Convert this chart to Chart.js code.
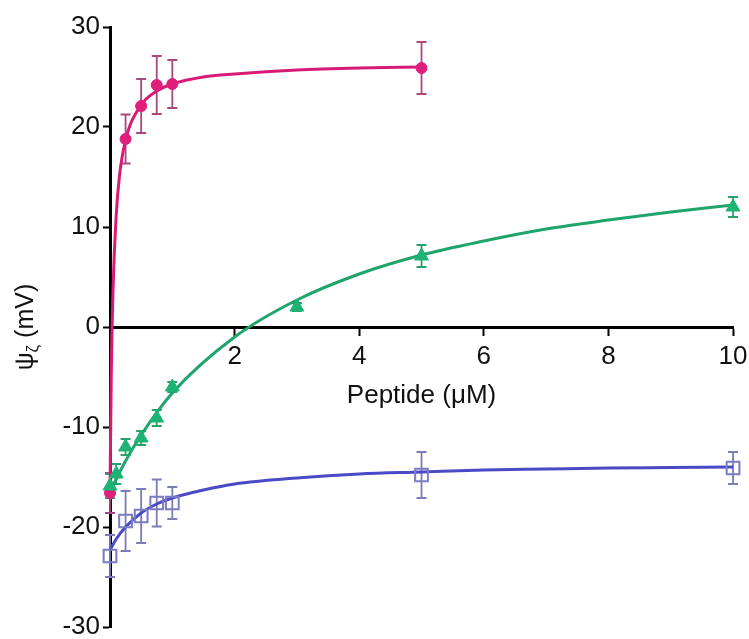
<!DOCTYPE html>
<html>
<head>
<meta charset="utf-8">
<title>Zeta potential vs peptide</title>
<script src="https://cdn.jsdelivr.net/npm/chart.js@4.4.1/dist/chart.umd.min.js"></script>
<style>
    html, body { margin: 0; padding: 0; background: #fff; }
    #wrap { width: 749px; height: 639px; }
</style>
</head>
<body>
<div id="wrap"><canvas id="zetaChart" width="749" height="639"></canvas></div>
<script>
const concPink = [0, 0.25, 0.5, 0.75, 1, 5];
const zetaPink = [-16.6, 18.8, 22.1, 24.2, 24.3, 25.9];
const errPink = [2.0, 2.45, 2.7, 2.9, 2.4, 2.6];

const concGreen = [0, 0.1, 0.25, 0.5, 0.75, 1, 3, 5, 10];
const zetaGreen = [-15.9, -14.7, -12.0, -11.1, -9.1, -6.0, 2.0, 7.1, 12.0];
const errGreen = [1.2, 1.0, 0.8, 0.7, 0.8, 0.5, 0.4, 1.1, 1.0];

const concBlue = [0, 0.25, 0.5, 0.75, 1, 5, 10];
const zetaBlue = [-22.9, -19.4, -18.9, -17.6, -17.6, -14.8, -14.1];
const errBlue = [2.1, 3.0, 2.7, 2.35, 1.6, 2.3, 1.6];

// fitted curves
const fitPinkX = [0, 0.02, 0.05, 0.1, 0.15, 0.25, 0.5, 0.75, 1, 1.5, 2, 3, 4, 5];
const fitPinkY = [-16.5, -5, 4, 11.2, 15, 18.7, 22.2, 23.6, 24.3, 25, 25.3, 25.7, 25.9, 26.0];

const fitGreenX = [0, 0.1, 0.25, 0.5, 1, 2, 3, 4, 5, 6, 7, 8, 9, 10];
const fitGreenY = [-16.5, -15.2, -13.4, -10.8, -6.6, -1.0, 2.7, 5.3, 7.2, 8.6, 9.8, 10.7, 11.5, 12.2];

const fitBlueX = [0, 0.1, 0.25, 0.5, 0.75, 1, 1.5, 2, 3, 4, 5, 6, 7, 8, 9, 10];
const fitBlueY = [-22.3, -21.2, -20.0, -18.6, -17.7, -17.1, -16.3, -15.7, -15.1, -14.7, -14.5, -14.3, -14.2, -14.1, -14.05, -14.0];

const xTitle = 'Peptide (\u03bcM)';
const fontFamily = '"Liberation Sans", Arial, sans-serif';

function toPoints(xs, ys) {
    return xs.map((x, i) => ({ x: x, y: ys[i] }));
}

const errorSets = [
    { xs: concPink, ys: zetaPink, err: errPink, color: '#a9487c' },
    { xs: concGreen, ys: zetaGreen, err: errGreen, color: '#27a26c' },
    { xs: concBlue, ys: zetaBlue, err: errBlue, color: '#7c7cb8' }
];

// error bars + axis titles (y title needs a subscript)
const extrasPlugin = {
    id: 'extras',
    beforeDatasetsDraw(chart) {
        const ctx = chart.ctx;
        const xs = chart.scales.x;
        const ys = chart.scales.y;
        ctx.save();
        ctx.lineWidth = 1.8;
        errorSets.forEach(set => {
            ctx.strokeStyle = set.color;
            set.xs.forEach((x, i) => {
                const px = xs.getPixelForValue(x);
                const top = ys.getPixelForValue(set.ys[i] + set.err[i]);
                const bot = ys.getPixelForValue(set.ys[i] - set.err[i]);
                ctx.beginPath();
                ctx.moveTo(px, top);
                ctx.lineTo(px, bot);
                ctx.moveTo(px - 5, top);
                ctx.lineTo(px + 5, top);
                ctx.moveTo(px - 5, bot);
                ctx.lineTo(px + 5, bot);
                ctx.stroke();
            });
        });
        ctx.restore();
    },
    afterDraw(chart) {
        const ctx = chart.ctx;
        const area = chart.chartArea;
        ctx.save();
        ctx.fillStyle = '#111';

        // x title
        ctx.font = '26px ' + fontFamily;
        ctx.textAlign = 'center';
        ctx.textBaseline = 'middle';
        ctx.fillText(xTitle, (area.left + area.right) / 2, 396);

        // y title: psi with zeta subscript, rotated
        ctx.translate(26, (area.top + area.bottom) / 2);
        ctx.rotate(-Math.PI / 2);
        ctx.textAlign = 'left';
        const big = '25px ' + fontFamily;
        const small = '17px ' + fontFamily;
        ctx.font = big;
        const w1 = ctx.measureText('\u03c8').width;
        const w3 = ctx.measureText(' (mV)').width;
        ctx.font = small;
        const w2 = ctx.measureText('\u03b6').width;
        let start = -(w1 + w2 + w3) / 2;
        ctx.font = big;
        ctx.fillText('\u03c8', start, 0);
        ctx.font = small;
        ctx.fillText('\u03b6', start + w1, 7);
        ctx.font = big;
        ctx.fillText(' (mV)', start + w1 + w2, 0);
        ctx.restore();
    }
};

const ctx = document.getElementById('zetaChart').getContext('2d');
new Chart(ctx, {
    type: 'scatter',
    data: {
        datasets: [
            {
                label: 'pink fit',
                data: toPoints(fitPinkX, fitPinkY),
                showLine: true,
                borderColor: '#d81c76',
                borderWidth: 3,
                pointRadius: 0,
                cubicInterpolationMode: 'monotone',
                clip: false,
                order: 5
            },
            {
                label: 'green fit',
                data: toPoints(fitGreenX, fitGreenY),
                showLine: true,
                borderColor: '#1fa46c',
                borderWidth: 3,
                pointRadius: 0,
                cubicInterpolationMode: 'monotone',
                clip: false,
                order: 4
            },
            {
                label: 'blue fit',
                data: toPoints(fitBlueX, fitBlueY),
                showLine: true,
                borderColor: '#4a4ac6',
                borderWidth: 3,
                pointRadius: 0,
                cubicInterpolationMode: 'monotone',
                clip: false,
                order: 6
            },
            {
                label: 'pink',
                data: toPoints(concPink, zetaPink),
                pointStyle: 'circle',
                pointRadius: 5.5,
                pointBackgroundColor: '#e01f7c',
                pointBorderColor: '#e01f7c',
                pointBorderWidth: 1,
                clip: false,
                order: 2
            },
            {
                label: 'green',
                data: toPoints(concGreen, zetaGreen),
                pointStyle: 'triangle',
                pointRadius: 8,
                pointBackgroundColor: '#1db375',
                pointBorderColor: '#1db375',
                pointBorderWidth: 1,
                clip: false,
                order: 1
            },
            {
                label: 'blue',
                data: toPoints(concBlue, zetaBlue),
                pointStyle: 'rect',
                pointRadius: 9,
                pointBackgroundColor: 'rgba(255,255,255,0)',
                pointBorderColor: '#7b7bc2',
                pointBorderWidth: 2,
                clip: false,
                order: 3
            }
        ]
    },
    options: {
        responsive: false,
        animation: false,
        events: [],
        layout: {
            padding: { left: 10, right: 5, top: 27, bottom: 12 }
        },
        plugins: {
            legend: { display: false },
            tooltip: { enabled: false }
        },
        scales: {
            x: {
                type: 'linear',
                min: 0,
                max: 10,
                position: { y: 0 },
                afterFit: function(scale) {
                    scale.height = 0;
                },
                grid: {
                    drawOnChartArea: false,
                    drawTicks: true,
                    tickLength: 7,
                    tickWidth: 2,
                    tickColor: c => (c.tick && c.tick.value === 0) ? 'rgba(0,0,0,0)' : '#000'
                },
                border: { display: true, color: '#000', width: 3 },
                ticks: {
                    stepSize: 2,
                    padding: 1.5,
                    color: '#111',
                    maxRotation: 0,
                    font: { family: fontFamily, size: 26, lineHeight: 1.65 },
                    callback: v => v === 0 ? '' : v
                }
            },
            y: {
                type: 'linear',
                min: -30,
                max: 30,
                position: 'left',
                afterFit: function(scale) {
                    scale.width = 100;
                },
                grid: {
                    drawOnChartArea: false,
                    drawTicks: true,
                    tickLength: 7,
                    tickWidth: 2,
                    tickColor: '#000'
                },
                border: { display: true, color: '#000', width: 3 },
                ticks: {
                    stepSize: 10,
                    padding: 3,
                    color: '#111',
                    font: { family: fontFamily, size: 26, lineHeight: 0.6 }
                }
            }
        }
    },
    plugins: [extrasPlugin]
});
</script>
</body>
</html>
